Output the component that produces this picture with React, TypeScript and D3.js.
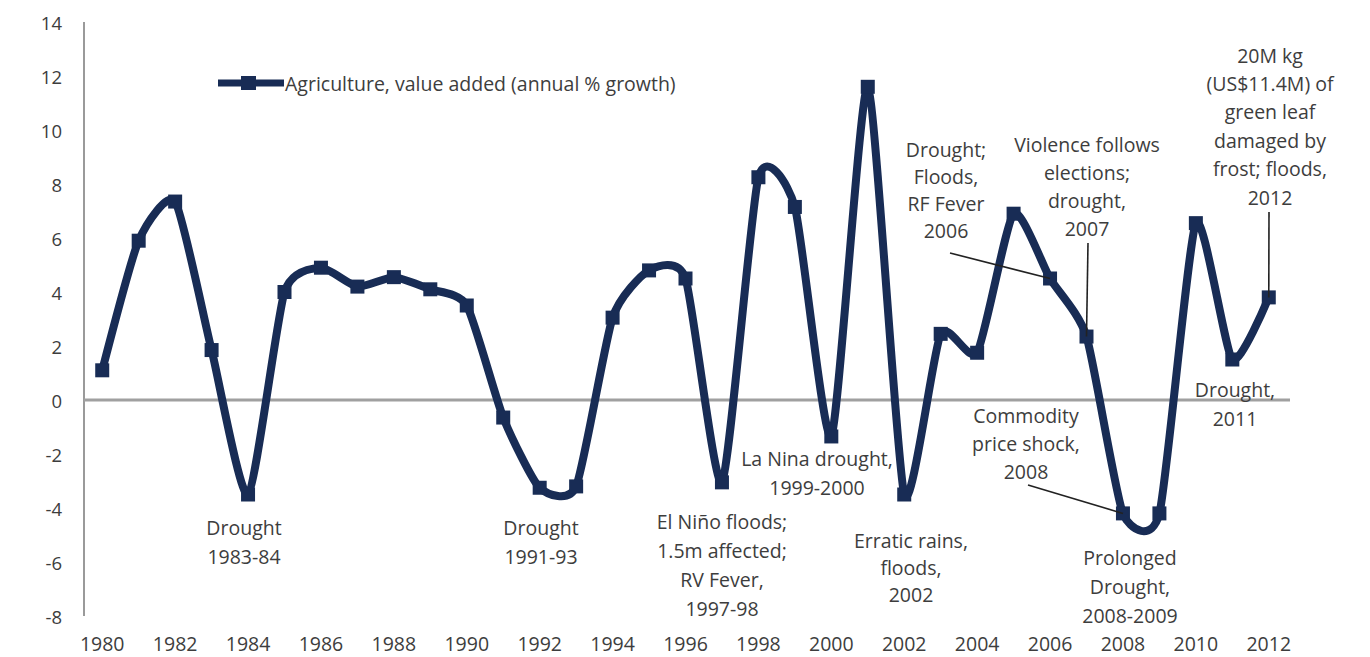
import React from "react";
import * as d3 from "d3";

// Agriculture, value added (annual % growth), 1980-2012
const years: number[] = [
  1980, 1981, 1982, 1983, 1984, 1985, 1986, 1987, 1988, 1989, 1990,
  1991, 1992, 1993, 1994, 1995, 1996, 1997, 1998, 1999, 2000,
  2001, 2002, 2003, 2004, 2005, 2006, 2007, 2008, 2009, 2010, 2011, 2012,
];
const growth: number[] = [
  1.1, 5.9, 7.35, 1.85, -3.5, 4.0, 4.9, 4.2, 4.55, 4.1, 3.5,
  -0.65, -3.25, -3.2, 3.05, 4.8, 4.5, -3.05, 8.25, 7.15, -1.35,
  11.6, -3.5, 2.45, 1.75, 6.9, 4.5, 2.35, -4.2, -4.2, 6.55, 1.5, 3.8,
];
const yTicks: number[] = [14, 12, 10, 8, 6, 4, 2, 0, -2, -4, -6, -8];
const xTickYears: number[] = years.filter((y) => y % 2 === 0);
const seriesName = "Agriculture, value added (annual % growth)";

// Event callouts: label lines with optional leader to a year's point
type Note = { lines: string[]; cx: number; cy: number; step: number; leader?: { x: number; y: number; year: number } };
const notes: Note[] = [
  { lines: ["Drought", "1983-84"], cx: 244, cy: 527, step: 29 },
  { lines: ["Drought", "1991-93"], cx: 541, cy: 527, step: 29 },
  { lines: ["El Niño floods;", "1.5m affected;", "RV Fever,", "1997-98"], cx: 722, cy: 521, step: 29 },
  { lines: ["La Nina drought,", "1999-2000"], cx: 817, cy: 458, step: 29 },
  { lines: ["Erratic rains,", "floods,", "2002"], cx: 911, cy: 540, step: 27 },
  { lines: ["Drought;", "Floods,", "RF Fever", "2006"], cx: 946, cy: 149, step: 27, leader: { x: 950, y: 253, year: 2006 } },
  { lines: ["Violence follows", "elections;", "drought,", "2007"], cx: 1087, cy: 144, step: 28, leader: { x: 1088, y: 243, year: 2007 } },
  { lines: ["20M kg", "(US$11.4M) of", "green leaf", "damaged by", "frost; floods,", "2012"], cx: 1270, cy: 55, step: 28.4, leader: { x: 1269, y: 212, year: 2012 } },
  { lines: ["Commodity", "price shock,", "2008"], cx: 1026, cy: 415, step: 28, leader: { x: 1028, y: 485, year: 2008 } },
  { lines: ["Prolonged", "Drought,", "2008-2009"], cx: 1130, cy: 557, step: 29 },
  { lines: ["Drought,", "2011"], cx: 1235, cy: 389, step: 29 },
];

const W = 1370;
const H = 657;
const NAVY = "#182c55";
const TEXT = "#3d3d3d";
const FONT = "'Open Sans', 'Noto Sans', sans-serif";

export default function App() {
  const x = d3.scaleLinear().domain([1979.5, 2012.5]).range([84, 1287]);
  const y = d3.scaleLinear().domain([-8, 14]).range([616, 22]);

  const data = years.map((yr, i) => ({ yr, v: growth[i] }));
  const line = d3
    .line<{ yr: number; v: number }>()
    .x((d) => x(d.yr))
    .y((d) => y(d.v))
    .curve(d3.curveCardinal.tension(0.4));
  const path = line(data) || "";

  const valueOf = (yr: number) => growth[years.indexOf(yr)];
  const m = 14;

  return (
    <svg
      width={W}
      height={H}
      style={{ position: "absolute", left: 0, top: 0, background: "#fff" }}
      fontFamily={FONT}
    >
      <rect x={0} y={0} width={W} height={H} fill="#fff" />

      {/* value axis */}
      <line x1={84} x2={84} y1={y(14)} y2={y(-8)} stroke="#9a9a9a" strokeWidth={2} />
      {yTicks.map((t) => (
        <text key={t} x={62} y={y(t)} textAnchor="end" dominantBaseline="central" fontSize={18.5} fill={TEXT}>
          {t}
        </text>
      ))}
      {/* zero line */}
      <line x1={84} x2={1290} y1={y(0)} y2={y(0)} stroke="#a0a0a0" strokeWidth={3} />

      {/* year labels */}
      {xTickYears.map((yr) => (
        <text key={yr} x={x(yr)} y={643} textAnchor="middle" dominantBaseline="central" fontSize={19.5} fill={TEXT}>
          {yr}
        </text>
      ))}

      {/* series */}
      <path d={path} fill="none" stroke={NAVY} strokeWidth={8} strokeLinejoin="round" />
      {data.map((d) => (
        <rect key={d.yr} x={x(d.yr) - m / 2} y={y(d.v) - m / 2} width={m} height={m} fill={NAVY} />
      ))}

      {/* legend */}
      <line x1={218} x2={284} y1={83} y2={83} stroke={NAVY} strokeWidth={7} />
      <rect x={241} y={76} width={15} height={14} fill={NAVY} />
      <text x={285} y={83} dominantBaseline="central" fontSize={19.5} fill={TEXT}>
        {seriesName}
      </text>

      {/* callouts */}
      {notes.map((n, i) => (
        <g key={i}>
          {n.leader && (
            <line
              x1={n.leader.x}
              y1={n.leader.y}
              x2={x(n.leader.year)}
              y2={y(valueOf(n.leader.year))}
              stroke="#222"
              strokeWidth={1.6}
            />
          )}
          {n.lines.map((s, j) => (
            <text
              key={j}
              x={n.cx}
              y={n.cy + j * n.step}
              textAnchor="middle"
              dominantBaseline="central"
              fontSize={19.5}
              fill={TEXT}
            >
              {s}
            </text>
          ))}
        </g>
      ))}
    </svg>
  );
}
